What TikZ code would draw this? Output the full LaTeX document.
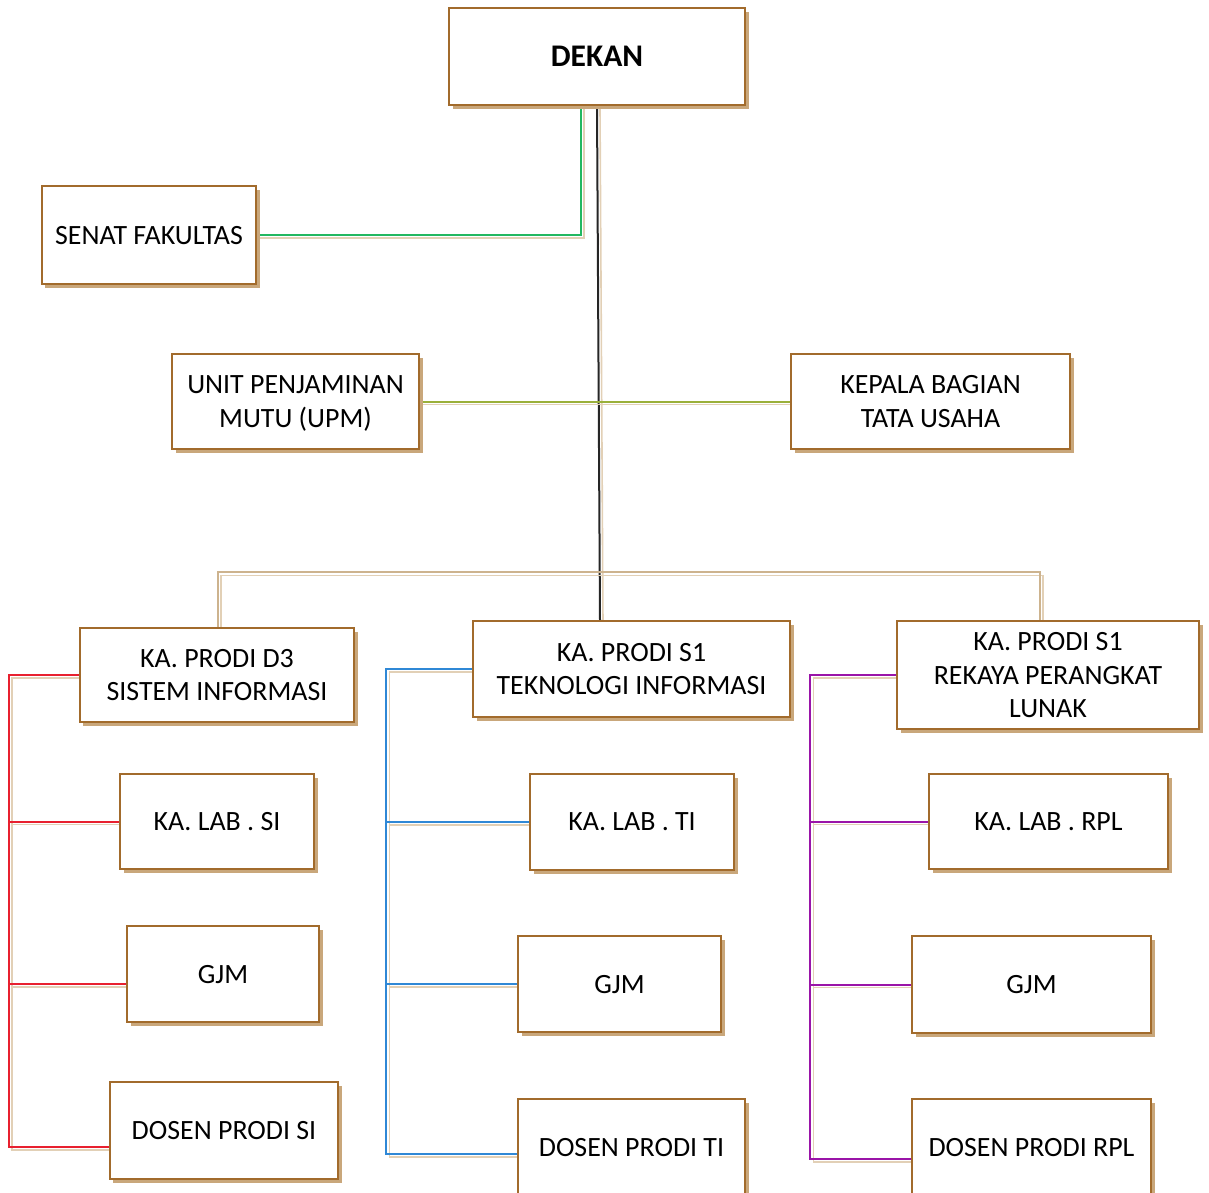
\documentclass[tikz,border=0pt]{standalone}
\usepackage{fontspec}
\setmainfont{Carlito}
\usetikzlibrary{shadows}
\definecolor{boxbd}{HTML}{A26B2C}
\definecolor{boxsh}{HTML}{C9A77B}
\definecolor{linesh}{HTML}{E2D0B6}
\definecolor{treeln}{HTML}{CDB38E}
\definecolor{cgreen}{HTML}{22B861}
\definecolor{colive}{HTML}{9AB03A}
\definecolor{cred}{HTML}{E8202F}
\definecolor{cblue}{HTML}{2F88D6}
\definecolor{cpurple}{HTML}{9A14A8}
\pgfdeclarelayer{bg}
\pgfsetlayers{bg,main}
\begin{document}
\begin{tikzpicture}[x=1bp,y=-1bp,
  orgbox/.style={draw=boxbd, line width=1.4bp, fill=white, align=center,
    inner sep=0pt, text depth=0pt, font=\fontsize{27.9bp}{33.3bp}\selectfont,
    drop shadow={shadow xshift=3.5bp, shadow yshift=-3.5bp, fill=boxsh, opacity=1}},
  conn/.style={line width=2bp, preaction={draw=linesh, line width=1.6bp,
    transform canvas={xshift=3bp,yshift=-3bp}}}]
\useasboundingbox (0,0) rectangle (1209,1193);
\clip (0,0) rectangle (1209,1193);
% boxes
\node[orgbox, minimum width=296bp, minimum height=97bp, font=\fontsize{31.5bp}{36bp}\selectfont\bfseries] (dekan) at (597,56.5) {DEKAN};
\node[orgbox, minimum width=214bp, minimum height=98bp] (senat) at (149,235) {SENAT FAKULTAS};
\node[orgbox, minimum width=247bp, minimum height=95bp] (upm) at (295.5,401.5) {UNIT PENJAMINAN\\MUTU (UPM)};
\node[orgbox, minimum width=279bp, minimum height=95bp] (kepala) at (930.5,401.5) {KEPALA BAGIAN\\TATA USAHA};
\node[orgbox, minimum width=274bp, minimum height=94bp] (d3) at (217,675) {KA. PRODI D3\\SISTEM INFORMASI};
\node[orgbox, minimum width=317bp, minimum height=96bp] (ti) at (631.5,669) {KA. PRODI S1\\TEKNOLOGI INFORMASI};
\node[orgbox, minimum width=302bp, minimum height=108bp] (rpl) at (1048,675) {KA. PRODI S1\\REKAYA PERANGKAT\\LUNAK};
\node[orgbox, minimum width=194bp, minimum height=95bp] (labsi) at (217,821.5) {KA. LAB . SI};
\node[orgbox, minimum width=192bp, minimum height=96bp] (gjmsi) at (223,974) {GJM};
\node[orgbox, minimum width=228bp, minimum height=97bp] (dosensi) at (224,1130.5) {DOSEN PRODI SI};
\node[orgbox, minimum width=204bp, minimum height=96bp] (labti) at (632,822) {KA. LAB . TI};
\node[orgbox, minimum width=203bp, minimum height=96bp] (gjmti) at (619.5,984) {GJM};
\node[orgbox, minimum width=227bp, minimum height=96bp] (dosenti) at (631.5,1147) {DOSEN PRODI TI};
\node[orgbox, minimum width=239bp, minimum height=95bp] (labrpl) at (1048.5,821.5) {KA. LAB . RPL};
\node[orgbox, minimum width=239bp, minimum height=97bp] (gjmrpl) at (1031.5,984.5) {GJM};
\node[orgbox, minimum width=239bp, minimum height=96bp] (dosenrpl) at (1031.5,1147) {DOSEN PRODI RPL};
% connectors
\begin{pgfonlayer}{bg}
\draw[conn, cgreen] ([xshift=-16bp]dekan.south) |- (senat.east);
\draw[conn, black!85] (dekan.south) -- ([xshift=-31.5bp]ti.north);
\draw[conn, colive] (upm.east) -- (kepala.west);
\draw[conn, treeln] ([xshift=1bp]d3.north) -- ++(0,-55) -| ([xshift=-8bp]rpl.north);
% SI
\coordinate (sitrunk) at ([xshift=-70bp]d3.west);
\draw[conn, cred] (d3.west) -- (sitrunk) |- ([yshift=-16.5bp]dosensi.west);
\draw[conn, cred] (labsi.west) -- (labsi.west -| sitrunk);
\draw[conn, cred] ([yshift=-10bp]gjmsi.west) -- ([yshift=-10bp]gjmsi.west -| sitrunk);
% TI
\coordinate (titrunk) at ([xshift=-86bp]ti.west);
\draw[conn, cblue] (ti.west) -- (titrunk) |- ([yshift=-7bp]dosenti.west);
\draw[conn, cblue] (labti.west) -- (labti.west -| titrunk);
\draw[conn, cblue] (gjmti.west) -- (gjmti.west -| titrunk);
% RPL
\coordinate (rpltrunk) at ([xshift=-86bp]rpl.west);
\draw[conn, cpurple] (rpl.west) -- (rpltrunk) |- ([yshift=-12bp]dosenrpl.west);
\draw[conn, cpurple] (labrpl.west) -- (labrpl.west -| rpltrunk);
\draw[conn, cpurple] (gjmrpl.west) -- (gjmrpl.west -| rpltrunk);
\end{pgfonlayer}
\end{tikzpicture}
\end{document}
